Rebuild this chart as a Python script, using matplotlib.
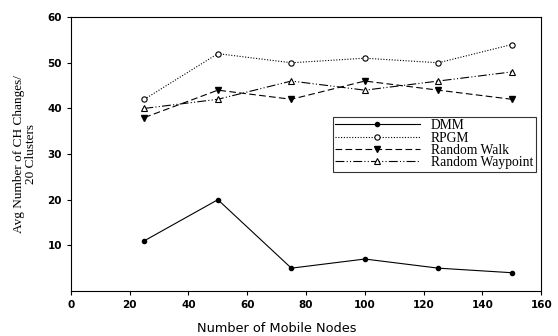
import matplotlib.pyplot as plt

nodes = [25, 50, 75, 100, 125, 150]
dmm = [11, 20, 5, 7, 5, 4]
rpgm = [42, 52, 50, 51, 50, 54]
random_walk = [38, 44, 42, 46, 44, 42]
random_waypoint = [40, 42, 46, 44, 46, 48]

fig = plt.figure(figsize=(5.58, 3.36), dpi=100)
ax = fig.add_axes([0.127, 0.134, 0.843, 0.815])

ax.plot(nodes, dmm, color='black', lw=0.8, marker='o', ms=3, mfc='black', label='DMM')
ax.plot(nodes, rpgm, color='black', lw=0.8, ls=(0, (1, 1.5)), marker='o', ms=3.8,
        mfc='white', mew=0.8, label='RPGM')
ax.plot(nodes, random_walk, color='black', lw=0.8, ls=(0, (6, 3)), marker='v', ms=4.5,
        mfc='black', label='Random Walk')
ax.plot(nodes, random_waypoint, color='black', lw=0.8, ls=(0, (8, 2, 1, 2, 1, 2)),
        marker='^', ms=4.5, mfc='white', mew=0.8, label='Random Waypoint')

ax.set_xlim(0, 160)
ax.set_ylim(0, 60)
ax.set_xticks(range(0, 161, 20))
ax.set_yticks(range(10, 61, 10))
ax.tick_params(direction='out', length=3, labelsize=7.5)
for lbl in ax.get_xticklabels() + ax.get_yticklabels():
    lbl.set_fontfamily('DejaVu Sans')
    lbl.set_fontweight('bold')

# x label sits a little left of the axes centre
fig.text(277 / 558, 1 - 328 / 336, 'Number of Mobile Nodes', fontsize=9.3,
         ha='center', va='center')
ax.set_ylabel('Avg Number of CH Changes/\n20 Clusters', fontsize=9.5,
              family='Liberation Serif', labelpad=7, linespacing=1.0)

leg = ax.legend(loc='upper right', bbox_to_anchor=(0.988, 0.637),
                prop={'family': 'Liberation Serif', 'size': 9.8},
                frameon=True, fancybox=False, edgecolor='black', handlelength=6.2,
                labelspacing=-0.05, borderpad=0.2, handletextpad=0.8, borderaxespad=0)
leg.get_frame().set_linewidth(0.8)

fig.savefig('out.png', dpi=100)
